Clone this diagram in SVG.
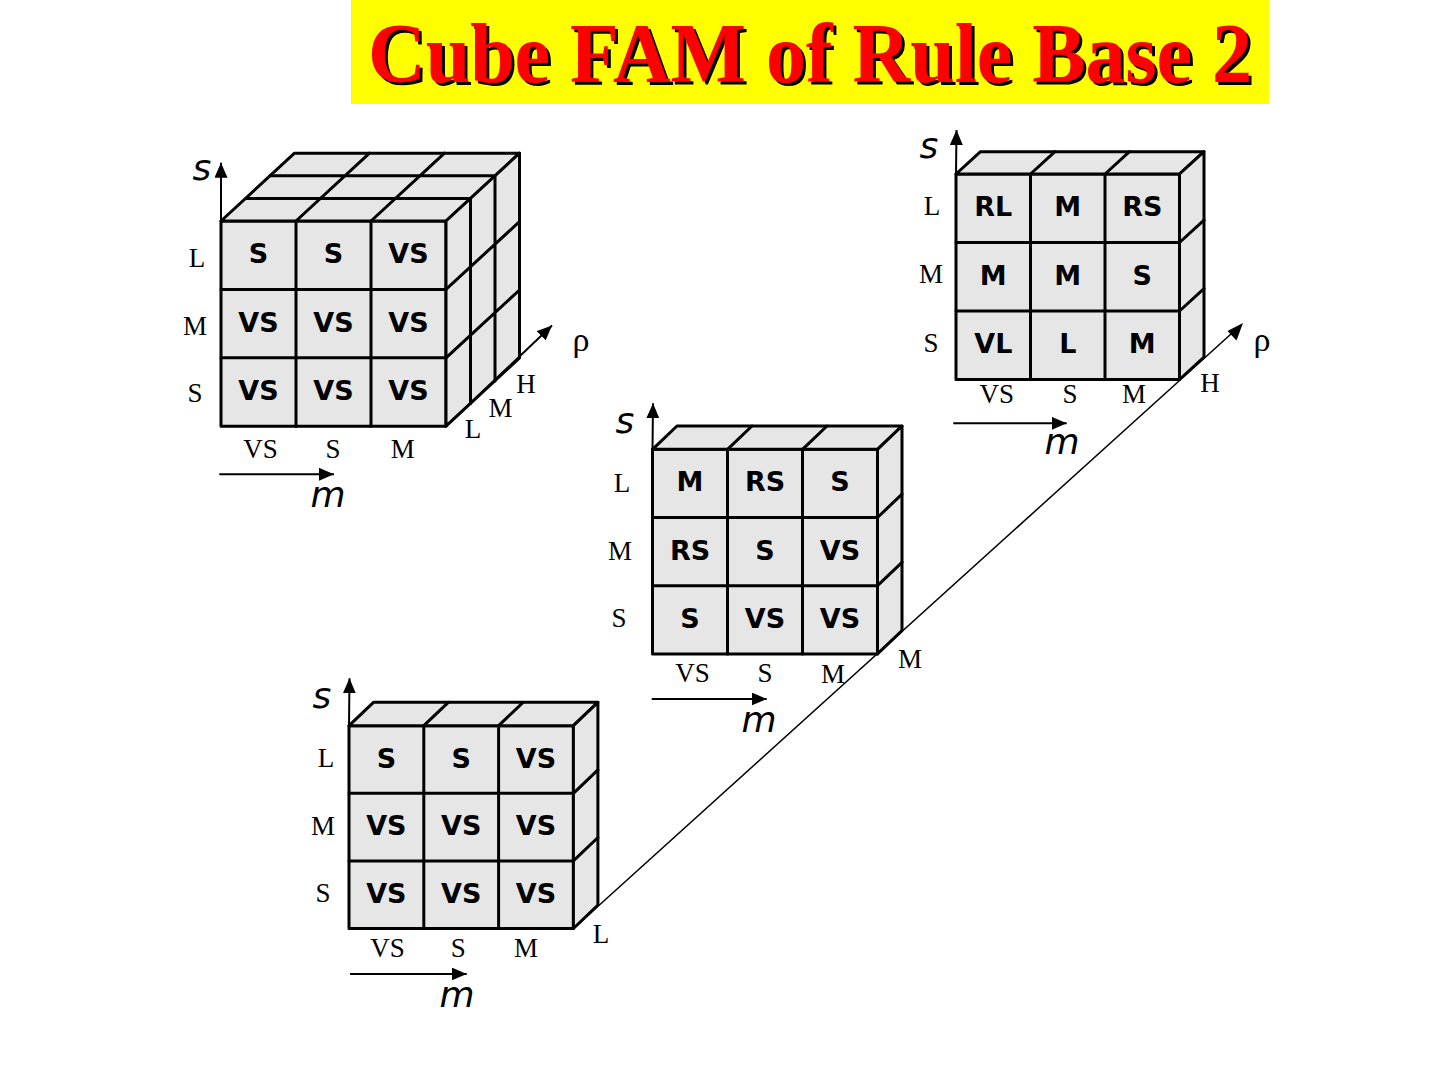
<svg xmlns="http://www.w3.org/2000/svg" width="1440" height="1080" viewBox="0 0 1440 1080">
<style>
.face{fill:#e6e6e6;stroke:#000;stroke-width:3;stroke-linejoin:round}
.grid{stroke:#000;stroke-width:3;fill:none;stroke-linecap:round}
.cell{font-family:"DejaVu Sans",sans-serif;font-weight:bold;font-size:27px;text-anchor:middle;fill:#000}
.lab{font-family:"Liberation Serif",serif;font-size:27px;text-anchor:middle;fill:#000}
.rho{font-family:"Liberation Serif",serif;font-size:34px;text-anchor:middle;fill:#000}
.ax{font-family:"DejaVu Sans",sans-serif;font-style:italic;font-size:36px;text-anchor:middle;fill:#000}
.axis{stroke:#000;stroke-width:2;fill:none;marker-end:url(#ah)}
.thin{stroke:#000;stroke-width:1.5;fill:none}
.title{font-family:"Liberation Serif",serif;font-weight:bold;font-size:84px;fill:#ff0000;filter:url(#shadow)}
</style>
<defs>
<marker id="ah" markerUnits="userSpaceOnUse" markerWidth="15" markerHeight="13" refX="15" refY="6.5" orient="auto">
<path d="M0,0 L15,6.5 L0,13 z" fill="#000"/>
</marker>
<filter id="shadow" x="-5%" y="-20%" width="110%" height="140%">
<feDropShadow dx="3" dy="3" stdDeviation="0" flood-color="#000" flood-opacity="1"/>
</filter>
</defs>
<rect width="1440" height="1080" fill="#fff"/>
<g id="title">
<rect x="351" y="0" width="918" height="104" fill="#ffff00"/>
<text class="title" x="368" y="82" textLength="884" lengthAdjust="spacingAndGlyphs">Cube FAM of Rule Base 2</text>
</g>

<g id="cube-tl">
<rect class="face" x="221" y="221" width="225" height="205.2"/>
<polygon class="face" points="221,221 446,221 519.5,153.2 294.5,153.2"/>
<polygon class="face" points="446,221 519.5,153.2 519.5,358 446,426.2"/>
<path class="grid" d="M296,221V426.2M371,221V426.2M221,289.4H446M221,357.8H446M245.5,198.4H470.5M270,175.8H495M296,221L369.5,153.2M371,221L444.5,153.2M470.5,198.4V403.6M495,175.8V381M446,289.4L519.5,221.6M446,357.8L519.5,290"/>
<text class="cell" x="258.5" y="263.2">S</text><text class="cell" x="333.5" y="263.2">S</text><text class="cell" x="408.5" y="263.2">VS</text>
<text class="cell" x="258.5" y="331.6">VS</text><text class="cell" x="333.5" y="331.6">VS</text><text class="cell" x="408.5" y="331.6">VS</text>
<text class="cell" x="258.5" y="400">VS</text><text class="cell" x="333.5" y="400">VS</text><text class="cell" x="408.5" y="400">VS</text>
<text class="lab" x="197" y="266.7">L</text><text class="lab" x="195" y="335">M</text><text class="lab" x="195" y="401.7">S</text>
<text class="lab" x="260.5" y="458.3">VS</text><text class="lab" x="333" y="458.3">S</text><text class="lab" x="402.7" y="458.3">M</text>
<text class="lab" x="473" y="437.7">L</text><text class="lab" x="500.5" y="416.7">M</text><text class="lab" x="526" y="393.3">H</text>
<text class="rho" x="581" y="351">ρ</text>
<text class="ax" x="202" y="180">s</text>
<text class="ax" x="328" y="506.7">m</text>
</g>

<g id="cube-tr">
<rect class="face" x="956" y="174" width="223.5" height="205.5"/>
<polygon class="face" points="956,174 1179.5,174 1204,151.7 980.5,151.7"/>
<polygon class="face" points="1179.5,174 1204,151.7 1204,357.2 1179.5,379.5"/>
<path class="grid" d="M1030.5,174V379.5M1105,174V379.5M956,242.5H1179.5M956,311H1179.5M1030.5,174L1055,151.7M1105,174L1129.5,151.7M1179.5,242.5L1204,220.2M1179.5,311L1204,288.7"/>
<text class="cell" x="993.3" y="216.3">RL</text><text class="cell" x="1067.8" y="216.3">M</text><text class="cell" x="1142.3" y="216.3">RS</text>
<text class="cell" x="993.3" y="284.8">M</text><text class="cell" x="1067.8" y="284.8">M</text><text class="cell" x="1142.3" y="284.8">S</text>
<text class="cell" x="993.3" y="353.3">VL</text><text class="cell" x="1067.8" y="353.3">L</text><text class="cell" x="1142.3" y="353.3">M</text>
<text class="lab" x="932" y="215">L</text><text class="lab" x="931" y="283.3">M</text><text class="lab" x="931" y="351.7">S</text>
<text class="lab" x="996.7" y="403.3">VS</text><text class="lab" x="1070" y="403.3">S</text><text class="lab" x="1134" y="403.3">M</text>
<text class="lab" x="1210" y="391.7">H</text>
<text class="rho" x="1262" y="351">ρ</text>
<text class="ax" x="929" y="158.3">s</text>
<text class="ax" x="1062" y="454">m</text>
</g>

<g id="cube-mid">
<rect class="face" x="652.5" y="449.3" width="225" height="204.6"/>
<polygon class="face" points="652.5,449.3 877.5,449.3 902,426 677,426"/>
<polygon class="face" points="877.5,449.3 902,426 902,630.6 877.5,653.9"/>
<path class="grid" d="M727.5,449.3V653.9M802.5,449.3V653.9M652.5,517.5H877.5M652.5,585.7H877.5M727.5,449.3L752,426M802.5,449.3L827,426M877.5,517.5L902,494.2M877.5,585.7L902,562.4"/>
<text class="cell" x="690" y="491.4">M</text><text class="cell" x="765" y="491.4">RS</text><text class="cell" x="840" y="491.4">S</text>
<text class="cell" x="690" y="559.6">RS</text><text class="cell" x="765" y="559.6">S</text><text class="cell" x="840" y="559.6">VS</text>
<text class="cell" x="690" y="627.8">S</text><text class="cell" x="765" y="627.8">VS</text><text class="cell" x="840" y="627.8">VS</text>
<text class="lab" x="622" y="491.7">L</text><text class="lab" x="620" y="560">M</text><text class="lab" x="619" y="626.7">S</text>
<text class="lab" x="692.5" y="681.7">VS</text><text class="lab" x="765" y="681.7">S</text><text class="lab" x="833" y="683.3">M</text>
<text class="lab" x="910" y="668.3">M</text>
<text class="ax" x="625" y="433.3">s</text>
<text class="ax" x="759" y="731.7">m</text>
</g>

<g id="cube-bot">
<rect class="face" x="349" y="725.7" width="224.4" height="202.8"/>
<polygon class="face" points="349,725.7 573.4,725.7 597.9,702.3 373.5,702.3"/>
<polygon class="face" points="573.4,725.7 597.9,702.3 597.9,905.1 573.4,928.5"/>
<path class="grid" d="M423.8,725.7V928.5M498.6,725.7V928.5M349,793.3H573.4M349,860.9H573.4M423.8,725.7L448.3,702.3M498.6,725.7L523.1,702.3M573.4,793.3L597.9,769.9M573.4,860.9L597.9,837.5"/>
<text class="cell" x="386.4" y="767.5">S</text><text class="cell" x="461.2" y="767.5">S</text><text class="cell" x="536" y="767.5">VS</text>
<text class="cell" x="386.4" y="835.1">VS</text><text class="cell" x="461.2" y="835.1">VS</text><text class="cell" x="536" y="835.1">VS</text>
<text class="cell" x="386.4" y="902.7">VS</text><text class="cell" x="461.2" y="902.7">VS</text><text class="cell" x="536" y="902.7">VS</text>
<text class="lab" x="326" y="766.7">L</text><text class="lab" x="323" y="835">M</text><text class="lab" x="323" y="901.7">S</text>
<text class="lab" x="387.5" y="956.7">VS</text><text class="lab" x="458.3" y="956.7">S</text><text class="lab" x="526" y="956.7">M</text>
<text class="lab" x="601" y="943.3">L</text>
<text class="ax" x="322" y="708.3">s</text>
<text class="ax" x="457" y="1006.7">m</text>
</g>

<g id="connectors">
<line class="axis" x1="221" y1="221" x2="221" y2="162.7"/>
<line class="axis" x1="219.3" y1="474.3" x2="334" y2="474.3"/>
<line class="axis" x1="446" y1="426.2" x2="552" y2="325.5"/>
<line class="axis" x1="956" y1="174" x2="956.5" y2="130"/>
<line class="axis" x1="953.3" y1="423.3" x2="1066.7" y2="423.3"/>
<line class="axis" x1="652.5" y1="449.3" x2="653" y2="403.3"/>
<line class="axis" x1="651.7" y1="699" x2="766.7" y2="699"/>
<line class="axis" x1="349" y1="725.7" x2="349.5" y2="678.3"/>
<line class="axis" x1="350" y1="974" x2="466.7" y2="974"/>
<line class="thin" x1="573.4" y1="928.5" x2="1236" y2="329.5"/>
<path d="M1243,323 L1227.5,331 L1236.5,340.5 z" fill="#000"/>
</g>
</svg>
